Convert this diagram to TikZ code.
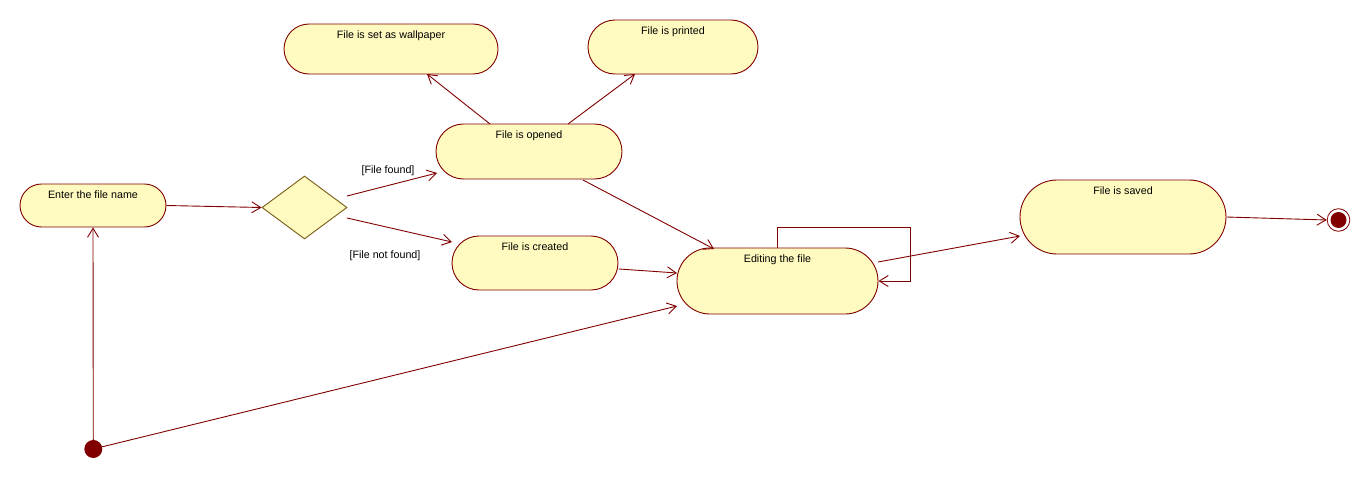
\documentclass[tikz,border=0pt]{standalone}
\usepackage{fontspec}
\setmainfont{Liberation Sans}
\usetikzlibrary{shapes.geometric,arrows.meta}
\definecolor{edge}{RGB}{128,0,0}
\definecolor{statefill}{RGB}{255,251,192}
\definecolor{diamondline}{RGB}{120,90,20}
\tikzset{
  activity/.style={draw=edge, fill=statefill, line width=0.9pt, rectangle,
    inner sep=0pt, rounded corners=#1},
  caption/.style={font=\fontsize{10.7}{12}\selectfont, text=black},
  flow/.style={draw=edge, line width=0.9pt,
    -{Straight Barb[length=9pt,width=11pt,line width=0.9pt]}},
  guard/.style={font=\fontsize{10.7}{12}\selectfont, text=black},
}
% caption placed near the top edge of an activity
\newcommand{\acttext}[2]{\node[caption, anchor=base] at ([yshift=-15pt]#1.north) {#2};}
\begin{document}
\begin{tikzpicture}[x=1pt, y=-1pt]
\useasboundingbox (0,0) rectangle (1369,479);

% activities
\node[activity=21.5pt, minimum width=146pt, minimum height=43pt] (enter) at (93,205.5) {};
\acttext{enter}{Enter the file name}
\node[activity=25pt, minimum width=214pt, minimum height=50pt] (wallpaper) at (391,49) {};
\acttext{wallpaper}{File is set as wallpaper}
\node[activity=27pt, minimum width=170pt, minimum height=54pt] (printed) at (673,47) {};
\acttext{printed}{File is printed}
\node[activity=27.5pt, minimum width=186pt, minimum height=55pt] (opened) at (529,151.5) {};
\acttext{opened}{File is opened}
\node[activity=27pt, minimum width=166pt, minimum height=54pt] (created) at (535,263) {};
\acttext{created}{File is created}
\node[activity=33pt, minimum width=201pt, minimum height=66pt] (editing) at (777.5,281) {};
\acttext{editing}{Editing the file}
\node[activity=37pt, minimum width=206pt, minimum height=74pt] (saved) at (1123,217) {};
\acttext{saved}{File is saved}

% decision
\node[diamond, draw=diamondline, fill=statefill, line width=0.9pt, inner sep=0pt,
      minimum width=85pt, minimum height=63pt] (dec) at (304.5,207.5) {};

% initial and final states
\node[circle, fill=edge, inner sep=0pt, minimum size=18pt] (init) at (93.3,449) {};
\node[circle, draw=edge, fill=white, line width=0.8pt, inner sep=0pt, minimum size=22.6pt] (final) at (1338.5,220) {};
\fill[edge] (final.center) circle (8);

% transitions
\draw[flow] (enter.east) -- (dec.west);
\draw[flow] ([shift={(42.5,-11.5)}]dec.center) -- ([shift={(-92,21.5)}]opened.center);
\draw[flow] ([shift={(42.5,10.5)}]dec.center) -- ([shift={(-83,-21)}]created.center);
\node[guard] (lblfound) at (388,171) {[File found]};
\node[guard] (lblnotfound) at (385,256) {[File not found]};
\draw[flow] ([shift={(-39,-27.5)}]opened.center) -- ([shift={(36,25)}]wallpaper.center);
\draw[flow] ([shift={(39,-27.5)}]opened.center) -- ([shift={(-38,27)}]printed.center);
\draw[flow] ([shift={(54,28.5)}]opened.center) -- ([shift={(-63.5,-32)}]editing.center);
\draw[flow] ([shift={(84,6)}]created.center) -- ([shift={(-100.5,-8)}]editing.center);
\draw[flow] (editing.north) -- ++(0,-20) -| ([xshift=31.5pt]editing.east) -- (editing.east);
\draw[flow] ([shift={(100.5,-19)}]editing.center) -- ([shift={(-103,19)}]saved.center);
\draw[flow] (saved.east) -- (final.west);
\draw[flow] (init.north) -- (enter.south);
\draw[flow] (init) -- ([shift={(-100.5,25)}]editing.center);
\end{tikzpicture}
\end{document}
